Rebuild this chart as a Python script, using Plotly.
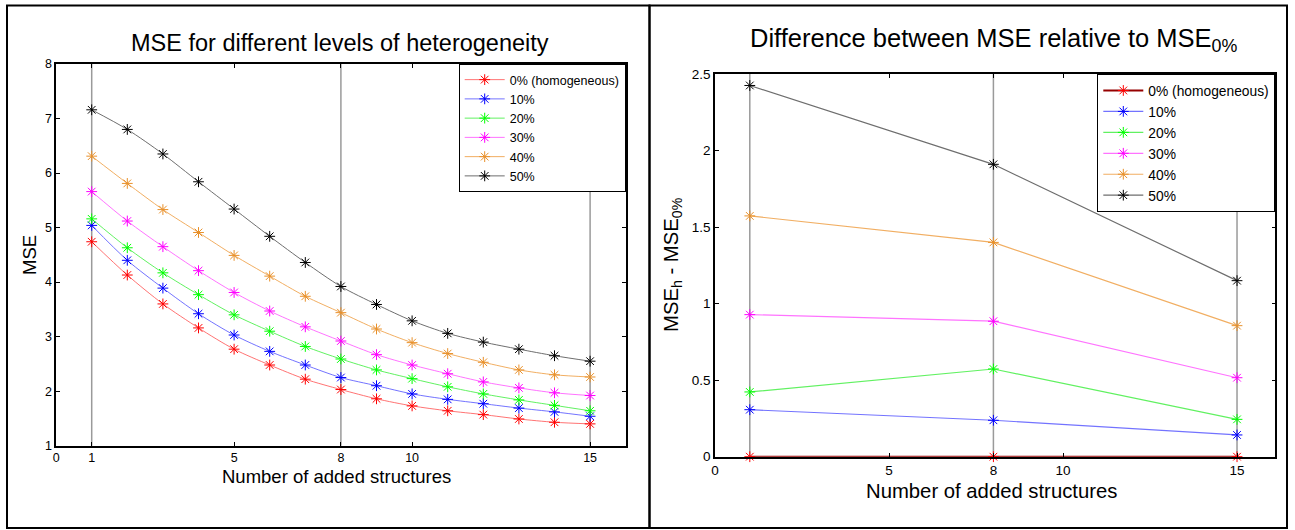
import plotly.graph_objects as go

W, H = 1295, 530
FONT = "Liberation Sans, Arial, sans-serif"

# ---------------- data ----------------
labels = ["0% (homogeneous)", "10%", "20%", "30%", "40%", "50%"]
x_left = list(range(1, 16))
mse_0 = [4.74, 4.13, 3.60, 3.16, 2.77, 2.48, 2.22, 2.03, 1.86, 1.73, 1.64, 1.57, 1.49, 1.43, 1.40]
mse_10 = [5.04, 4.40, 3.89, 3.42, 3.03, 2.73, 2.48, 2.25, 2.10, 1.95, 1.85, 1.77, 1.69, 1.62, 1.54]
mse_20 = [5.16, 4.63, 4.17, 3.77, 3.40, 3.10, 2.82, 2.59, 2.39, 2.23, 2.08, 1.95, 1.84, 1.74, 1.64]
mse_30 = [5.66, 5.12, 4.65, 4.21, 3.81, 3.47, 3.18, 2.92, 2.67, 2.48, 2.32, 2.17, 2.06, 1.97, 1.92]
mse_40 = [6.31, 5.81, 5.33, 4.91, 4.49, 4.11, 3.74, 3.44, 3.14, 2.89, 2.69, 2.53, 2.39, 2.30, 2.26]
mse_50 = [7.16, 6.80, 6.35, 5.84, 5.34, 4.84, 4.36, 3.92, 3.59, 3.29, 3.06, 2.90, 2.77, 2.65, 2.55]

x_right = [1, 8, 15]
diff_0 = [0.0, 0.0, 0.0]
diff_10 = [0.307, 0.238, 0.142]
diff_20 = [0.423, 0.573, 0.244]
diff_30 = [0.928, 0.885, 0.516]
diff_40 = [1.573, 1.400, 0.856]
diff_50 = [2.425, 1.910, 1.150]

left_ticks = [0, 1, 5, 8, 10, 15]
right_ticks = [0, 5, 8, 10, 15]
left_yticks = [1, 2, 3, 4, 5, 6, 7, 8]
right_yticks = [0, 0.5, 1, 1.5, 2, 2.5]
grid_x = [1, 8, 15]

marker_colors = ["#FF0000", "#0000FF", "#00FF00", "#FF00FF", "#E8902A", "#000000"]
line_colors = ["rgba(255,90,90,0.85)", "rgba(90,90,255,0.85)", "rgba(80,240,80,0.9)",
               "rgba(255,90,255,0.85)", "rgba(240,170,90,0.95)", "rgba(110,110,110,1)"]

left_series = [mse_0, mse_10, mse_20, mse_30, mse_40, mse_50]
right_series = [diff_0, diff_10, diff_20, diff_30, diff_40, diff_50]

# ---------------- geometry (pixels -> paper) ----------------
def px(x):
    return x / W

def py(y):
    return 1 - y / H

L_dom_x = [px(56.1), px(625.7)]
L_dom_y = [py(445.7), py(64)]
R_dom_x = [px(715), px(1275.3)]
R_dom_y = [py(456.7), py(74)]

fig = go.Figure()

for i, (lab, ys) in enumerate(zip(labels, left_series)):
    fig.add_trace(go.Scatter(
        x=x_left, y=ys, name=lab, mode="lines+markers",
        line=dict(color=line_colors[i], width=1, shape="spline", smoothing=0.8),
        marker=dict(symbol="asterisk-open", size=9, color=marker_colors[i],
                    line=dict(color=marker_colors[i], width=1)),
        xaxis="x", yaxis="y", legend="legend", cliponaxis=False,
    ))

for i, (lab, ys) in enumerate(zip(labels, right_series)):
    fig.add_trace(go.Scatter(
        x=x_right, y=ys, name=lab, mode="lines+markers",
        line=dict(color=line_colors[i] if i > 0 else "rgba(150,0,0,1)", width=1.2 if i > 0 else 2),
        marker=dict(symbol="asterisk-open", size=9, color=marker_colors[i],
                    line=dict(color=marker_colors[i], width=1)),
        xaxis="x2", yaxis="y2", legend="legend2", cliponaxis=False,
    ))

axis_common = dict(showgrid=False, zeroline=False, showline=True, linecolor="black",
                   linewidth=1.5, mirror="ticks", ticks="inside", ticklen=4,
                   tickcolor="black", tickwidth=1, automargin=False)

shapes = []
for gx in grid_x:
    shapes.append(dict(type="line", xref="x", yref="y domain", x0=gx, x1=gx, y0=0, y1=1,
                       line=dict(color="#9a9a9a", width=1.5), layer="below"))
    shapes.append(dict(type="line", xref="x2", yref="y2 domain", x0=gx, x1=gx, y0=0, y1=1,
                       line=dict(color="#9a9a9a", width=1.5), layer="below"))
# panel frames
shapes.append(dict(type="rect", xref="paper", yref="paper", x0=px(7), x1=px(649.5),
                   y0=py(528), y1=py(5.5), line=dict(color="black", width=2)))
shapes.append(dict(type="rect", xref="paper", yref="paper", x0=px(649.5), x1=px(1287),
                   y0=py(528), y1=py(5.5), line=dict(color="black", width=2)))

annotations = [
    dict(text="MSE for different levels of heterogeneity", x=px(339.5), y=py(43),
         xref="paper", yref="paper", showarrow=False, xanchor="center", yanchor="middle",
         font=dict(family=FONT, size=23.5, color="black")),
    dict(text="Difference between MSE relative to MSE<sub>0%</sub>", x=px(994), y=py(22),
         xref="paper", yref="paper", showarrow=False, xanchor="center", yanchor="top",
         font=dict(family=FONT, size=25.5, color="black")),
    dict(text="Number of added structures", x=px(336), y=py(476),
         xref="paper", yref="paper", showarrow=False, xanchor="center", yanchor="middle",
         font=dict(family=FONT, size=18.5, color="black")),
    dict(text="Number of added structures", x=px(991.5), y=py(491),
         xref="paper", yref="paper", showarrow=False, xanchor="center", yanchor="middle",
         font=dict(family=FONT, size=20.3, color="black")),
    dict(text="MSE", x=px(29), y=py(255), textangle=-90,
         xref="paper", yref="paper", showarrow=False, xanchor="center", yanchor="middle",
         font=dict(family=FONT, size=18.5, color="black")),
    dict(text="MSE<sub>h</sub> - MSE<sub>0%</sub>", x=px(672), y=py(265), textangle=-90,
         xref="paper", yref="paper", showarrow=False, xanchor="center", yanchor="middle",
         font=dict(family=FONT, size=20.3, color="black")),
]

fig.update_layout(
    width=W, height=H, margin=dict(l=0, r=0, t=0, b=0, autoexpand=False),
    paper_bgcolor="white", plot_bgcolor="white",
    font=dict(family=FONT, color="black"),
    xaxis=dict(domain=L_dom_x, range=[0, 16], tickvals=left_ticks, anchor="y",
               tickfont=dict(size=12.5), **axis_common),
    yaxis=dict(domain=L_dom_y, range=[1, 8], tickvals=left_yticks, anchor="x",
               tickfont=dict(size=12.5), **axis_common),
    xaxis2=dict(domain=R_dom_x, range=[0, 16.1], tickvals=right_ticks, anchor="y2",
                tickfont=dict(size=13.5), **axis_common),
    yaxis2=dict(domain=R_dom_y, range=[0, 2.5], tickvals=right_yticks, anchor="x2",
                tickfont=dict(size=13.5), **axis_common),
    legend=dict(x=px(625.7), y=py(64), xanchor="right", yanchor="top",
                bgcolor="white", bordercolor="black", borderwidth=1,
                font=dict(family=FONT, size=12.5), itemwidth=40, tracegroupgap=0),
    legend2=dict(x=px(1275.3), y=py(74), xanchor="right", yanchor="top",
                 bgcolor="white", bordercolor="black", borderwidth=1,
                 font=dict(family=FONT, size=13.8), itemwidth=40, tracegroupgap=0),
    shapes=shapes,
    annotations=annotations,
    showlegend=True,
)

post = ("document.body.style.margin='0px';"
        "document.documentElement.style.overflow='hidden';")
fig.write_html("out.html", config={"displayModeBar": False}, post_script=post)
